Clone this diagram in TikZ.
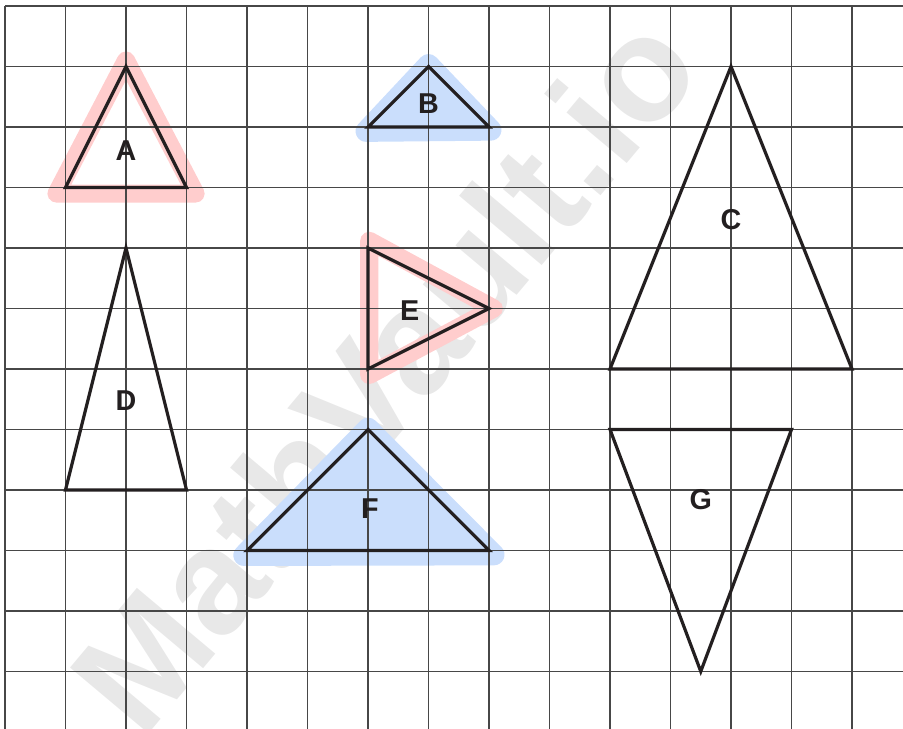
\documentclass[tikz,border=0pt]{standalone}
\usepackage{fontspec}
\setmainfont{Liberation Sans}
\definecolor{hlred}{RGB}{255,205,205}
\definecolor{hlblue}{RGB}{202,222,252}
\definecolor{ink}{RGB}{35,31,32}
\tikzset{
  gridline/.style={line width=0.6pt,black!72},
  tri/.style={line width=1.5pt,ink,line join=miter},
  redmark/.style={line width=8.5pt,hlred,line join=round,line cap=round},
  bluemark/.style={line width=10pt,hlblue,fill=hlblue,line join=round,line cap=round},
  lbl/.style={font=\fontsize{13.5}{15}\selectfont\bfseries,text=ink,inner sep=0pt}
}
\begin{document}
\begin{tikzpicture}[x=1cm,y=-1cm]
  \useasboundingbox (-0.083,-0.099) rectangle (14.843,11.95);
  \clip (-0.083,-0.099) rectangle (14.843,11.95);
  % watermark
  \node[rotate=50,text=black!9,font=\fontsize{70}{72}\selectfont\bfseries] (mark) at (6.25,6.05) {MathVault.io};
  % highlights
  \draw[redmark] (2,0.9) -- (0.85,3.1) -- (3.15,3.1) -- cycle;
  \draw[redmark] (6.02,3.88) -- (6.02,6.1) -- (8.08,5) -- cycle;
  \draw[bluemark] (7,0.97) -- (5.97,2.07) -- (8.03,2.05) -- cycle;
  \draw[bluemark] (6,6.98) -- (3.95,9.08) -- (8.08,9.07) -- cycle;
  % grid
  \draw[gridline] (0,0) grid (14.9,12);
  % triangles
  \draw[tri] (2,1) -- (1,3) -- (3,3) -- cycle;
  \draw[tri] (7,1) -- (6,2) -- (8,2) -- cycle;
  \draw[tri] (12,1) -- (10,6) -- (14,6) -- cycle;
  \draw[tri] (2,4) -- (1,8) -- (3,8) -- cycle;
  \draw[tri] (6,4) -- (6,6) -- (8,5) -- cycle;
  \draw[tri] (6,7) -- (4,9) -- (8,9) -- cycle;
  \draw[tri] (10,7) -- (13,7) -- (11.5,11) -- cycle;
  % labels
  \node[lbl] (A) at (2,2.39) {A};
  \node[lbl] (B) at (7,1.61) {B};
  \node[lbl] (C) at (12,3.53) {C};
  \node[lbl] (D) at (2,6.53) {D};
  \node[lbl] (E) at (6.69,5.03) {E};
  \node[lbl] (F) at (6.03,8.3) {F};
  \node[lbl] (G) at (11.5,8.16) {G};
\end{tikzpicture}
\end{document}
